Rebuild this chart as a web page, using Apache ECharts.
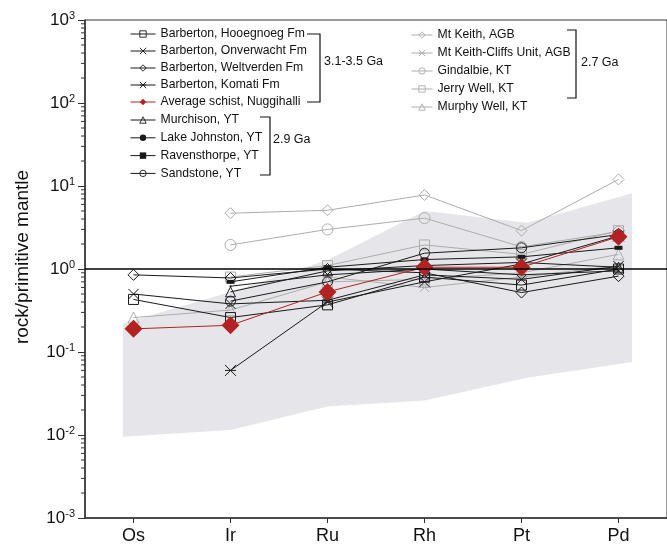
<!DOCTYPE html>
<html>
<head>
<meta charset="utf-8">
<script src="https://cdn.jsdelivr.net/npm/echarts@6/dist/echarts.min.js"></script>
<style>
  html, body { margin: 0; padding: 0; background: #fff; }
  #myChart { width: 667px; height: 547px; }
</style>
</head>
<body>
<div id="myChart"></div>
<script>
// PGE normalised to primitive mantle
const elements = ['Os', 'Ir', 'Ru', 'Rh', 'Pt', 'Pd']
const decades = [-3, -2, -1, 0, 1, 2, 3]

// 3.1-3.5 Ga
const hooegnoeg = [0.43, 0.26, 0.37, 0.80, 0.64, 1.0]
const onverwacht = [0.50, 0.38, 0.42, 0.85, 0.75, 1.08]
const weltverden = [0.85, 0.78, 1.0, 0.9, 0.52, 0.82]
const komati = [null, 0.06, 0.40, 0.70, 1.15, 2.5]
const nuggihalli = [0.19, 0.21, 0.53, 1.05, 1.05, 2.45]
// 2.9 Ga
const murchison = [null, 0.53, 0.95, 1.1, 1.2, 1.05]
const lakeJohnston = [null, 0.62, 0.85, 1.0, 0.85, 0.95]
const ravensthorpe = [null, 0.70, 1.05, 1.3, 1.4, 1.8]
const sandstone = [null, 0.41, 0.70, 1.55, 1.8, 2.6]
// 2.7 Ga
const mtKeith = [null, 4.7, 5.1, 7.8, 2.9, 12]
const mtKeithCliffs = [null, null, 0.8, 0.6, 0.8, 1.1]
const gindalbie = [null, 1.95, 3.0, 4.1, 1.85, 2.8]
const jerryWell = [null, 0.8, 1.1, 1.95, 1.5, 2.9]
const murphyWell = [0.26, 0.32, 0.7, 0.75, 0.9, 1.5]

// grey field (komatiite range)
const shadeX = [-0.11, 1, 2, 3, 4.06, 5.14]
const shadeTop = [0.22, 0.53, 1.28, 5.0, 3.6, 8.2]
const shadeBottom = [0.0095, 0.0115, 0.022, 0.026, 0.049, 0.076]

const FONT = 'Liberation Sans, Arial, Helvetica, sans-serif'
const BLACK = '#1a1a1a'
const GREY = '#adadad'
const RED = '#b22222'

const X_SYM = 'path://M0,0L10,10M10,0L0,10'
const AST_SYM = 'path://M0,0L10,10M10,0L0,10M0,5L10,5'

function pts(vals) {
  const out = []
  vals.forEach(function (v, i) { if (v != null) out.push([i, v]) })
  return out
}

function line(name, vals, symbol, size, color, filled, z) {
  return {
    name: name,
    type: 'line',
    data: pts(vals),
    symbol: symbol,
    symbolSize: size,
    z: z || 3,
    lineStyle: { color: color, width: 1 },
    itemStyle: {
      color: filled ? color : 'rgba(0,0,0,0)',
      borderColor: color,
      borderWidth: filled ? 0 : 1
    },
    emphasis: { disabled: true }
  }
}

// legend entries: thin line + small marker
function leg(name, color, filled) {
  return {
    name: name,
    lineStyle: { color: color, width: 1 },
    itemStyle: {
      color: filled ? color : 'rgba(0,0,0,0)',
      borderColor: color,
      borderWidth: filled ? 0 : 0.9
    }
  }
}

let myChart = echarts.init(document.getElementById('myChart'))

const minorTicks = []
decades.slice(0, -1).forEach(function (d) {
  for (let k = 2; k <= 9; k++) minorTicks.push(k * Math.pow(10, d))
})

const series = [
  {
    type: 'custom',
    silent: true,
    z: 1,
    clip: false,
    data: [0],
    renderItem: function (params, api) {
      const poly = []
      shadeX.forEach(function (x, i) { poly.push(api.coord([x, shadeTop[i]])) })
      for (let i = shadeX.length - 1; i >= 0; i--) poly.push(api.coord([shadeX[i], shadeBottom[i]]))
      return { type: 'polygon', shape: { points: poly }, style: { fill: '#e6e6ea' } }
    }
  },
  {
    type: 'custom',
    silent: true,
    z: 5,
    clip: false,
    data: minorTicks,
    renderItem: function (params, api) {
      const p = api.coord([-0.5, api.value(0)])
      return {
        type: 'line',
        shape: { x1: p[0] - 4, y1: p[1], x2: p[0], y2: p[1] },
        style: { stroke: '#333', lineWidth: 1 }
      }
    }
  },
  line('Mt Keith, AGB', mtKeith, 'diamond', 11, GREY, false, 2),
  line('Mt Keith-Cliffs Unit, AGB', mtKeithCliffs, AST_SYM, 9, GREY, false, 2),
  line('Gindalbie, KT', gindalbie, 'circle', 11, GREY, false, 2),
  line('Jerry Well, KT', jerryWell, 'rect', 10, GREY, false, 2),
  line('Murphy Well, KT', murphyWell, 'triangle', 11, GREY, false, 2),
  line('Barberton, Hooegnoeg Fm', hooegnoeg, 'rect', 10, BLACK, false),
  line('Barberton, Onverwacht Fm', onverwacht, X_SYM, 10, BLACK, false),
  line('Barberton, Weltverden Fm', weltverden, 'diamond', 11, BLACK, false),
  line('Barberton, Komati Fm', komati, AST_SYM, 11, BLACK, false),
  line('Murchison, YT', murchison, 'triangle', 10, BLACK, false),
  line('Lake Johnston, YT', lakeJohnston, 'circle', 2, BLACK, true),
  line('Ravensthorpe, YT', ravensthorpe, 'rect', [8, 4], BLACK, true),
  line('Sandstone, YT', sandstone, 'circle', 10, BLACK, false),
  line('Average schist, Nuggihalli', nuggihalli, 'diamond', 18, RED, true, 4)
]

// primitive mantle reference line
series[2].markLine = {
  silent: true,
  symbol: 'none',
  label: { show: false },
  lineStyle: { color: '#000', width: 1.5, type: 'solid' },
  data: [{ yAxis: 1 }]
}

const legendText = { fontFamily: FONT, fontSize: 12.2, color: '#111', lineHeight: 14 }

const option = {
  animation: false,
  backgroundColor: '#fff',
  grid: {
    left: 85, right: -3, top: 20, bottom: 29,
    show: true, borderColor: '#333', borderWidth: 1
  },
  legend: [
    {
      data: [
        leg('Barberton, Hooegnoeg Fm', BLACK, false),
        leg('Barberton, Onverwacht Fm', BLACK, false),
        leg('Barberton, Weltverden Fm', BLACK, false),
        leg('Barberton, Komati Fm', BLACK, false),
        leg('Average schist, Nuggihalli', RED, true)
      ],
      orient: 'vertical', left: 130, top: 27, itemGap: 3, itemWidth: 25, itemHeight: 8,
      padding: 0, selectedMode: false, textStyle: legendText
    },
    {
      data: [
        leg('Murchison, YT', BLACK, false),
        leg('Lake Johnston, YT', BLACK, true),
        leg('Ravensthorpe, YT', BLACK, true),
        leg('Sandstone, YT', BLACK, false)
      ],
      orient: 'vertical', left: 130, top: 113, itemGap: 3.8, itemWidth: 25, itemHeight: 8,
      padding: 0, selectedMode: false, textStyle: legendText
    },
    {
      data: [
        leg('Mt Keith, AGB', GREY, false),
        leg('Mt Keith-Cliffs Unit, AGB', GREY, false),
        leg('Gindalbie, KT', GREY, false),
        leg('Jerry Well, KT', GREY, false),
        leg('Murphy Well, KT', GREY, false)
      ],
      orient: 'vertical', left: 411, top: 28, itemGap: 4, itemWidth: 21, itemHeight: 8,
      padding: 0, selectedMode: false, textStyle: legendText
    }
  ],
  xAxis: {
    type: 'value',
    min: -0.5,
    max: 5.5,
    splitLine: { show: false },
    axisLine: { onZero: false, lineStyle: { color: '#333', width: 1.5 } },
    axisTick: { show: true, length: 5, customValues: [0, 1, 2, 3, 4, 5], lineStyle: { color: '#333' } },
    axisLabel: {
      customValues: [0, 1, 2, 3, 4, 5],
      formatter: function (v) { return elements[Math.round(v)] },
      fontFamily: FONT, fontSize: 18, color: '#111', margin: 9
    }
  },
  yAxis: {
    type: 'log',
    logBase: 10,
    min: 0.001,
    max: 1000,
    splitNumber: 6,
    name: 'rock/primitive mantle',
    nameLocation: 'middle',
    nameGap: 53,
    nameTextStyle: { fontFamily: FONT, fontSize: 19, color: '#111', padding: [0, 0, 0, 24] },
    splitLine: { show: false },
    axisLine: { show: true, onZero: false, lineStyle: { color: '#333', width: 1.5 } },
    axisTick: { show: true, length: 7, lineStyle: { color: '#333' } },
    axisLabel: {
      margin: 10,
      formatter: function (v) { return '{b|10}{s|' + Math.round(Math.log10(v)) + '}' },
      rich: {
        b: { fontFamily: FONT, fontSize: 17, color: '#111', lineHeight: 20 },
        s: { fontFamily: FONT, fontSize: 11, color: '#111', lineHeight: 12, verticalAlign: 'top' }
      }
    }
  },
  graphic: [
    { type: 'polyline', silent: true, shape: { points: [[307, 34], [320, 34], [320, 102], [307, 102]] }, style: { stroke: '#111', lineWidth: 1.2, fill: null } },
    { type: 'text', silent: true, left: 324, top: 55, style: { text: '3.1-3.5 Ga', font: '12.5px ' + FONT, fill: '#111' } },
    { type: 'polyline', silent: true, shape: { points: [[260, 117], [270, 117], [270, 175], [260, 175]] }, style: { stroke: '#111', lineWidth: 1.2, fill: null } },
    { type: 'text', silent: true, left: 273, top: 133, style: { text: '2.9 Ga', font: '12.5px ' + FONT, fill: '#111' } },
    { type: 'polyline', silent: true, shape: { points: [[567, 30], [576, 30], [576, 98], [567, 98]] }, style: { stroke: '#111', lineWidth: 1.2, fill: null } },
    { type: 'text', silent: true, left: 581, top: 56, style: { text: '2.7 Ga', font: '12.5px ' + FONT, fill: '#111' } }
  ],
  series: series
}

myChart.setOption(option)
window.onresize = myChart.resize
</script>
</body>
</html>
